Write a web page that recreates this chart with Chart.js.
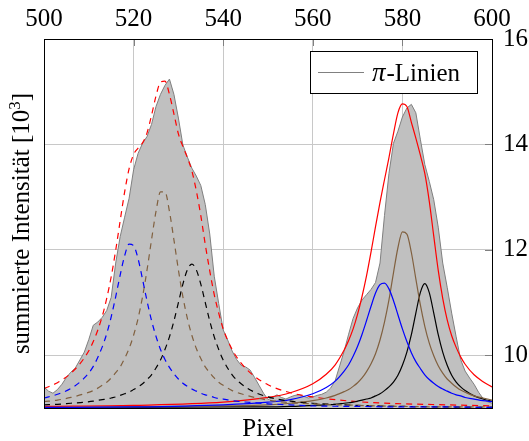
<!DOCTYPE html>
<html lang="de">
<head>
<meta charset="utf-8">
<title>π-Linien</title>
<script src="https://cdn.jsdelivr.net/npm/chart.js@4.4.1/dist/chart.umd.min.js"></script>
<style>
  html, body { margin: 0; padding: 0; background: #fff; }
  canvas { display: block; }
</style>
</head>
<body>
<canvas id="spectrumChart" width="529" height="441"></canvas>
<script>
// Axis ticks
const pixelTicks = [500, 520, 540, 560, 580, 600];
const intensityTicks = [10, 12, 14, 16];

// Measured profile (summed intensity per pixel, in 10^3)
const measuredPixel = [
  500, 501, 502, 503, 504, 505, 506, 507, 508, 509,
  510, 511, 512, 513, 514, 515, 516, 517, 518, 519,
  520, 521, 522, 523, 524, 525, 526, 527, 528, 529,
  530, 531, 532, 533, 534, 535, 536, 537, 538, 539,
  540, 541, 542, 543, 544, 545, 546, 547, 548, 549,
  550, 551, 552, 553, 554, 555, 556, 557, 558, 559,
  560, 561, 562, 563, 564, 565, 566, 567, 568, 569,
  570, 571, 572, 573, 574, 575, 576, 577, 578, 579,
  580, 581, 582, 583, 584, 585, 586, 587, 588, 589,
  590, 591, 592, 593, 594, 595, 596, 597, 598, 599,
  600
];
const measuredIntensity = [
  9.40, 9.32, 9.28, 9.35, 9.45, 9.58, 9.68, 9.76, 9.91, 10.06,
  10.30, 10.57, 10.63, 10.72, 10.85, 11.10, 11.75, 12.25, 12.62, 12.98,
  13.52, 13.83, 14.02, 14.15, 14.38, 14.72, 14.95, 15.12, 15.24, 14.95,
  14.50, 13.99, 13.76, 13.55, 13.40, 13.22, 12.86, 12.30, 11.50, 10.98,
  10.48, 10.29, 10.08, 9.92, 9.81, 9.78, 9.72, 9.58, 9.43, 9.28,
  9.16, 9.20, 9.25, 9.20, 9.17, 9.21, 9.24, 9.25, 9.22, 9.19,
  9.21, 9.24, 9.26, 9.30, 9.38, 9.52, 9.80, 10.08, 10.40, 10.70,
  10.90, 11.05, 11.15, 11.25, 11.38, 11.75, 12.65, 13.45, 14.02, 14.25,
  14.52, 14.69, 14.76, 14.60, 14.10, 13.62, 13.30, 12.95, 12.43, 11.75,
  11.29, 10.80, 10.35, 9.92, 9.70, 9.57, 9.45, 9.30, 9.18, 9.12,
  9.09
];

// Fit of the left group (dashed): sum and three components
const leftFitPixel = [
  500, 503, 506, 509, 511, 513, 514, 515, 516, 517, 518, 519, 520, 521, 522,
  523, 524, 525, 526, 527, 528, 529, 530, 531, 532, 533, 534, 535, 536, 537,
  538, 539, 540, 542, 544, 547, 550, 555, 560, 570, 580, 590, 600
];
const leftSum = [
  9.37, 9.48, 9.66, 9.95, 10.26, 10.74, 11.08, 11.49, 11.99, 12.55, 13.10, 13.54, 13.81, 13.93, 14.03,
  14.22, 14.55, 14.92, 15.18, 15.20, 14.95, 14.58, 14.20, 13.96, 13.75, 13.50, 13.12, 12.65, 12.10, 11.60,
  11.15, 10.80, 10.50, 10.11, 9.85, 9.60, 9.44, 9.29, 9.21, 9.12, 9.08, 9.06, 9.04
];
const leftBlue = [
  9.19, 9.26, 9.37, 9.57, 9.79, 10.16, 10.41, 10.73, 11.11, 11.52, 11.89, 12.11, 12.08, 11.83, 11.44,
  11.03, 10.66, 10.36, 10.11, 9.92, 9.77, 9.65, 9.55, 9.47, 9.41, 9.36, 9.32, 9.28, 9.25, 9.23,
  9.20, 9.18, 9.17, 9.14, 9.12, 9.10, 9.08, 9.06, 9.04, 9.03, 9.02, 9.02, 9.01
];
const leftBrown = [
  9.12, 9.15, 9.20, 9.27, 9.33, 9.43, 9.49, 9.57, 9.67, 9.78, 9.94, 10.13, 10.38, 10.70, 11.11,
  11.62, 12.19, 12.73, 13.10, 13.10, 12.73, 12.19, 11.62, 11.11, 10.70, 10.38, 10.13, 9.94, 9.78, 9.67,
  9.57, 9.49, 9.43, 9.33, 9.27, 9.20, 9.15, 9.10, 9.08, 9.05, 9.03, 9.02, 9.02
];
const leftBlack = [
  9.06, 9.07, 9.09, 9.11, 9.13, 9.16, 9.17, 9.19, 9.21, 9.24, 9.27, 9.30, 9.35, 9.40, 9.46,
  9.54, 9.63, 9.76, 9.91, 10.11, 10.35, 10.65, 11.00, 11.35, 11.62, 11.73, 11.62, 11.35, 11.00, 10.65,
  10.35, 10.11, 9.91, 9.63, 9.46, 9.30, 9.21, 9.13, 9.09, 9.05, 9.03, 9.02, 9.01
];

// Fit of the right group (solid): sum and three components
const rightFitPixel = [
  500, 520, 540, 550, 555, 560, 563, 565, 567, 568, 569, 570, 571, 572, 573,
  574, 575, 576, 577, 578, 579, 580, 581, 582, 583, 584, 585, 586, 587, 588,
  589, 590, 591, 592, 593, 594, 596, 598, 600
];
const rightSum = [
  9.03, 9.05, 9.11, 9.20, 9.29, 9.46, 9.64, 9.82, 10.10, 10.28, 10.50, 10.78, 11.12, 11.51, 11.96,
  12.44, 12.90, 13.33, 13.75, 14.20, 14.60, 14.77, 14.72, 14.42, 14.12, 13.80, 13.45, 12.92, 12.26, 11.61,
  11.08, 10.67, 10.37, 10.15, 9.97, 9.83, 9.63, 9.50, 9.40
];
const rightBlue = [
  9.01, 9.02, 9.06, 9.11, 9.16, 9.27, 9.39, 9.51, 9.70, 9.82, 9.98, 10.17, 10.40, 10.66, 10.93,
  11.18, 11.34, 11.37, 11.26, 11.04, 10.77, 10.50, 10.26, 10.05, 9.88, 9.75, 9.63, 9.54, 9.47, 9.41,
  9.36, 9.32, 9.28, 9.25, 9.23, 9.20, 9.17, 9.14, 9.12
];
const rightBrown = [
  9.01, 9.02, 9.04, 9.06, 9.09, 9.14, 9.19, 9.24, 9.31, 9.35, 9.41, 9.48, 9.57, 9.69, 9.84,
  10.03, 10.29, 10.63, 11.05, 11.56, 12.04, 12.34, 12.30, 11.95, 11.45, 10.96, 10.55, 10.23, 9.99, 9.80,
  9.66, 9.55, 9.47, 9.40, 9.34, 9.30, 9.23, 9.19, 9.15
];
const rightBlack = [
  9.00, 9.01, 9.02, 9.02, 9.03, 9.05, 9.06, 9.07, 9.09, 9.10, 9.11, 9.13, 9.15, 9.17, 9.19,
  9.23, 9.27, 9.33, 9.40, 9.49, 9.62, 9.81, 10.06, 10.39, 10.80, 11.19, 11.36, 11.19, 10.80, 10.39,
  10.06, 9.81, 9.62, 9.49, 9.40, 9.33, 9.23, 9.17, 9.13
];

const serif = "'Liberation Serif', 'DejaVu Serif', 'Times New Roman', serif";
const fontSize = 25;
const brown = '#80603f';

function points(xs, ys) {
  return xs.map((x, i) => ({ x: x, y: ys[i] }));
}

function fitLine(xs, ys, color, dashed) {
  return {
    data: points(xs, ys),
    borderColor: color,
    borderWidth: 1.2,
    borderDash: dashed ? [6, 5] : [],
    pointRadius: 0,
    fill: false,
    cubicInterpolationMode: 'monotone',
    order: 1
  };
}

// frame, inner tick marks, axis titles and the legend box
const decorations = {
  id: 'decorations',
  afterDatasetsDraw(chart) {
    const { ctx, chartArea: a, scales: { x, y } } = chart;
    ctx.save();
    ctx.lineWidth = 1;
    ctx.strokeStyle = '#808080';
    ctx.beginPath();
    pixelTicks.forEach(v => {
      const px = Math.round(x.getPixelForValue(v)) + 0.5;
      ctx.moveTo(px, a.top);
      ctx.lineTo(px, a.top + 7);
    });
    intensityTicks.forEach(v => {
      const py = Math.round(y.getPixelForValue(v)) + 0.5;
      ctx.moveTo(a.right, py);
      ctx.lineTo(a.right - 7, py);
    });
    ctx.stroke();

    ctx.strokeStyle = '#000';
    ctx.strokeRect(a.left + 0.5, a.top + 0.5, a.right - a.left, a.bottom - a.top);
    ctx.restore();
  },
  afterDraw(chart) {
    const { ctx, chartArea: a } = chart;
    ctx.save();
    ctx.fillStyle = '#000';
    ctx.textBaseline = 'alphabetic';

    // bottom title
    ctx.font = `${fontSize}px ${serif}`;
    ctx.textAlign = 'center';
    ctx.fillText('Pixel', (a.left + a.right) / 2, a.bottom + 28);

    // left title with superscript
    const main = 'summierte Intensität [10';
    const tail = ']';
    ctx.font = `${fontSize}px ${serif}`;
    const w1 = ctx.measureText(main).width;
    const w3 = ctx.measureText(tail).width;
    ctx.font = `17px ${serif}`;
    const w2 = ctx.measureText('3').width;
    ctx.translate(29, (a.top + a.bottom) / 2);
    ctx.rotate(-Math.PI / 2);
    ctx.textAlign = 'left';
    let cx = -(w1 + w2 + w3) / 2;
    ctx.font = `${fontSize}px ${serif}`;
    ctx.fillText(main, cx, 0);
    cx += w1;
    ctx.font = `17px ${serif}`;
    ctx.fillText('3', cx, -9);
    cx += w2;
    ctx.font = `${fontSize}px ${serif}`;
    ctx.fillText(tail, cx, 0);
    ctx.restore();

    // legend
    ctx.save();
    const boxW = 168;
    const boxH = 43;
    const bx = a.right - 14 - boxW;
    const by = a.top + 12;
    ctx.fillStyle = '#fff';
    ctx.fillRect(bx, by, boxW, boxH);
    ctx.strokeStyle = '#000';
    ctx.lineWidth = 1;
    ctx.strokeRect(bx + 0.5, by + 0.5, boxW - 1, boxH - 1);
    ctx.strokeStyle = '#808080';
    ctx.beginPath();
    ctx.moveTo(bx + 8, by + 21.5);
    ctx.lineTo(bx + 54, by + 21.5);
    ctx.stroke();
    ctx.fillStyle = '#000';
    ctx.textAlign = 'left';
    ctx.textBaseline = 'alphabetic';
    ctx.font = `italic 27px ${serif}`;
    const wPi = ctx.measureText('π').width;
    ctx.fillText('π', bx + 62, by + 30);
    ctx.font = `${fontSize}px ${serif}`;
    ctx.fillText('-Linien', bx + 63 + wPi, by + 30);
    ctx.restore();
  }
};

const ctx = document.getElementById('spectrumChart').getContext('2d');
const spectrumChart = new Chart(ctx, {
  type: 'line',
  data: {
    datasets: [
      {
        label: 'π-Linien',
        data: points(measuredPixel, measuredIntensity),
        borderColor: '#7f7f7f',
        backgroundColor: '#c0c0c0',
        borderWidth: 1,
        pointRadius: 0,
        tension: 0,
        fill: 'start',
        order: 2
      },
      fitLine(leftFitPixel, leftBlue, '#0000ff', true),
      fitLine(leftFitPixel, leftBrown, brown, true),
      fitLine(leftFitPixel, leftBlack, '#000000', true),
      fitLine(rightFitPixel, rightBlue, '#0000ff', false),
      fitLine(rightFitPixel, rightBrown, brown, false),
      fitLine(rightFitPixel, rightBlack, '#000000', false),
      fitLine(rightFitPixel, rightSum, '#ff0000', false),
      fitLine(leftFitPixel, leftSum, '#ff0000', true)
    ]
  },
  options: {
    responsive: false,
    devicePixelRatio: 1,
    animation: false,
    layout: {
      padding: { left: 44, right: 0, top: 0, bottom: 33 }
    },
    plugins: {
      legend: { display: false },
      tooltip: { enabled: false }
    },
    scales: {
      x: {
        type: 'linear',
        position: 'top',
        min: 500,
        max: 600,
        afterBuildTicks: s => { s.ticks = pixelTicks.map(v => ({ value: v })); },
        afterFit: s => { s.height = 39; },
        ticks: {
          color: '#000',
          font: { family: serif, size: fontSize },
          padding: 5,
          maxRotation: 0,
          autoSkip: false
        },
        grid: { color: '#c8c8c8', drawTicks: false },
        border: { display: false }
      },
      y: {
        type: 'linear',
        position: 'right',
        min: 9,
        max: 16,
        afterBuildTicks: s => { s.ticks = intensityTicks.map(v => ({ value: v })); },
        afterFit: s => { s.width = 37; },
        ticks: {
          color: '#000',
          font: { family: serif, size: fontSize },
          padding: 11
        },
        grid: { color: '#c8c8c8', drawTicks: false },
        border: { display: false }
      }
    }
  },
  plugins: [decorations]
});
</script>
</body>
</html>
